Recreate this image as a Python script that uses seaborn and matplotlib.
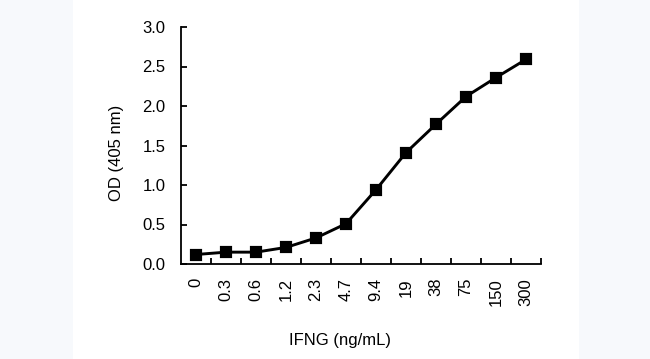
import matplotlib
matplotlib.use("Agg")
import matplotlib.pyplot as plt
import seaborn as sns
import pandas as pd
import numpy as np
from matplotlib.patches import Rectangle
from matplotlib.ticker import FixedLocator

concentrations = ["0", "0.3", "0.6", "1.2", "2.3", "4.7", "9.4", "19", "38", "75", "150", "300"]
od_405 = [0.12, 0.15, 0.15, 0.21, 0.33, 0.51, 0.94, 1.41, 1.77, 2.12, 2.36, 2.59]
y_ticks = [0.0, 0.5, 1.0, 1.5, 2.0, 2.5, 3.0]

df = pd.DataFrame({"conc": concentrations, "od": od_405})

sns.set_style("white")
plt.rcParams["font.family"] = ["Liberation Sans", "DejaVu Sans"]

fig = plt.figure(figsize=(6.5, 3.59), dpi=100, facecolor="white")
panel = "#f7f9fc"
fig.patches.append(Rectangle((0, 0), 73 / 650, 1, transform=fig.transFigure, facecolor=panel, edgecolor="none", zorder=-10))
fig.patches.append(Rectangle((579 / 650, 0), 71 / 650, 1, transform=fig.transFigure, facecolor=panel, edgecolor="none", zorder=-10))

ax = fig.add_axes([181 / 650, 1 - 264 / 359, 360 / 650, 237 / 359])
ax.set_facecolor("none")

sns.pointplot(data=df, x="conc", y="od", color="black", markers="s", linestyles="-",
              markersize=7.5, linewidth=2.1, ax=ax, order=concentrations)

n = len(concentrations)
ax.set_xlim(-0.5, n - 0.5)
ax.set_ylim(0, 3.0)
ax.set_yticks(y_ticks)
ax.set_yticklabels([f"{v:.1f}" for v in y_ticks])

for s in ["top", "right"]:
    ax.spines[s].set_visible(False)
for s in ["left", "bottom"]:
    ax.spines[s].set_color("black")
    ax.spines[s].set_linewidth(1.3)

fs = 12
ax.tick_params(axis="y", left=True, direction="in", length=4.3, width=1.3, pad=11, labelsize=fs, colors="black")
ax.tick_params(axis="x", which="major", bottom=True, length=0, pad=10, labelsize=fs, labelrotation=90, colors="black")
ax.xaxis.set_minor_locator(FixedLocator(np.arange(0.5, n, 1.0)))
ax.tick_params(axis="x", which="minor", bottom=True, direction="in", length=4.3, width=1.3, color="black")

ax.set_xlabel("IFNG (ng/mL)", fontsize=fs, color="black")
ax.set_ylabel("OD (405 nm)", fontsize=fs, color="black")
ax.xaxis.set_label_coords(0.442, -0.29)
ax.yaxis.set_label_coords(-0.158, 0.47)

fig.savefig("out.png", dpi=100, facecolor="white")
